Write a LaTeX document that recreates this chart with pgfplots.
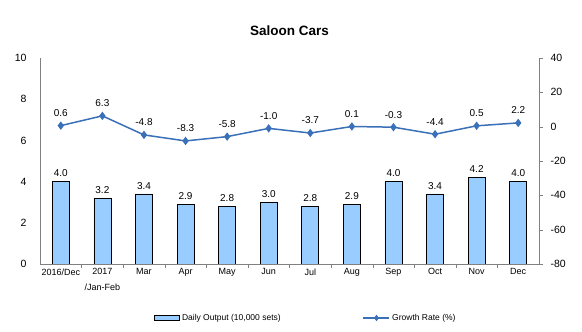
\documentclass[border=0pt]{standalone}
\usepackage{fontspec}
\setmainfont{Liberation Sans}
\usepackage{pgfplots}
\pgfplotsset{compat=1.18}
\definecolor{barblue}{HTML}{99CCFF}
\definecolor{lineblue}{HTML}{3A70B8}
\definecolor{axgray}{HTML}{808080}
\begin{document}
\begin{tikzpicture}
\path[use as bounding box] (-40pt,-68pt) rectangle (542pt,264pt);
\begin{axis}[
  at={(0,0)}, anchor=south west,
  scale only axis, width=499pt, height=206pt,
  xmin=-0.5, xmax=11.5, ymin=0, ymax=10,
  ytick={0,2,...,10},
  xtick={0,...,11},
  xticklabels={2016/Dec,2017\\/Jan-Feb,Mar,Apr,May,Jun,Jul,Aug,Sep,Oct,Nov,Dec},
  xticklabel style={font=\fontsize{9}{16}\selectfont, align=center, anchor=north, yshift=-1pt},
  minor xtick={0.5,1.5,...,10.5},
  major tick length=0pt,
  minor tick length=4pt,
  xtick style={draw=none},
  minor x tick style={draw=axgray},
  ytick style={draw=axgray},
  tick align=outside,
  axis x line*=bottom,
  axis y line*=left,
  axis line style={draw=axgray, -},
  y tick label style={font=\fontsize{10.5}{12}\selectfont, xshift=-10pt},
  /pgf/number format/assume math mode=true,
  ybar, bar width=17pt,
  nodes near coords,
  nodes near coords style={font=\fontsize{10}{12}\selectfont, /pgf/number format/fixed, /pgf/number format/fixed zerofill, /pgf/number format/precision=1, yshift=1pt},
  title={Saloon Cars},
  title style={font=\fontsize{13.5}{16}\selectfont\bfseries, yshift=13pt},
]
\addplot[fill=barblue, draw=black, line width=0.6pt] coordinates {
(0,4.0) (1,3.2) (2,3.4) (3,2.9) (4,2.8) (5,3.0) (6,2.8) (7,2.9) (8,4.0) (9,3.4) (10,4.2) (11,4.0)};
\end{axis}
\begin{axis}[
  at={(0,0)}, anchor=south west,
  scale only axis, width=499pt, height=206pt,
  xmin=-0.5, xmax=11.5, ymin=-80, ymax=40,
  ytick={-80,-60,...,40},
  xtick=\empty,
  axis x line=none,
  axis y line*=right,
  axis line style={draw=axgray, -},
  ytick style={draw=axgray},
  tick align=outside,
  major tick length=4pt,
  y tick label style={font=\fontsize{10.5}{12}\selectfont, xshift=4pt},
  /pgf/number format/assume math mode=true,
  legend columns=2,
  legend style={draw=none, font=\fontsize{8.5}{10}\selectfont, at={(axis description cs:0.533,-0.262)}, anchor=center, /tikz/every even column/.append style={column sep=80pt}},
  legend cell align=left,
]
\addlegendimage{legend image code/.code={\draw[fill=barblue,draw=black,line width=0.6pt] (0pt,-2.5pt) rectangle (25pt,2.5pt);}}
\addlegendentry{Daily Output (10,000 sets)}
\addplot[color=lineblue, line width=1.5pt, mark=diamond*, mark size=3pt,
  legend image code/.code={\draw[lineblue,line width=1.5pt] (0pt,0pt) -- (26pt,0pt); \fill[lineblue] (13pt,0pt) +(0,2pt) -- +(1.5pt,0) -- +(0,-2pt) -- +(-1.5pt,0) -- cycle;},
  nodes near coords,
  point meta=explicit symbolic,
  nodes near coords style={font=\fontsize{10}{12}\selectfont, color=black, yshift=5pt}]
  coordinates {
(0,0.6) [0.6] (1,6.3) [6.3] (2,-4.8) [-4.8] (3,-8.3) [-8.3] (4,-5.8) [-5.8] (5,-1.0) [-1.0]
(6,-3.7) [-3.7] (7,0.1) [0.1] (8,-0.3) [-0.3] (9,-4.4) [-4.4] (10,0.5) [0.5] (11,2.2) [2.2]};
\addlegendentry{Growth Rate (\%)}
\end{axis}
\end{tikzpicture}
\end{document}
